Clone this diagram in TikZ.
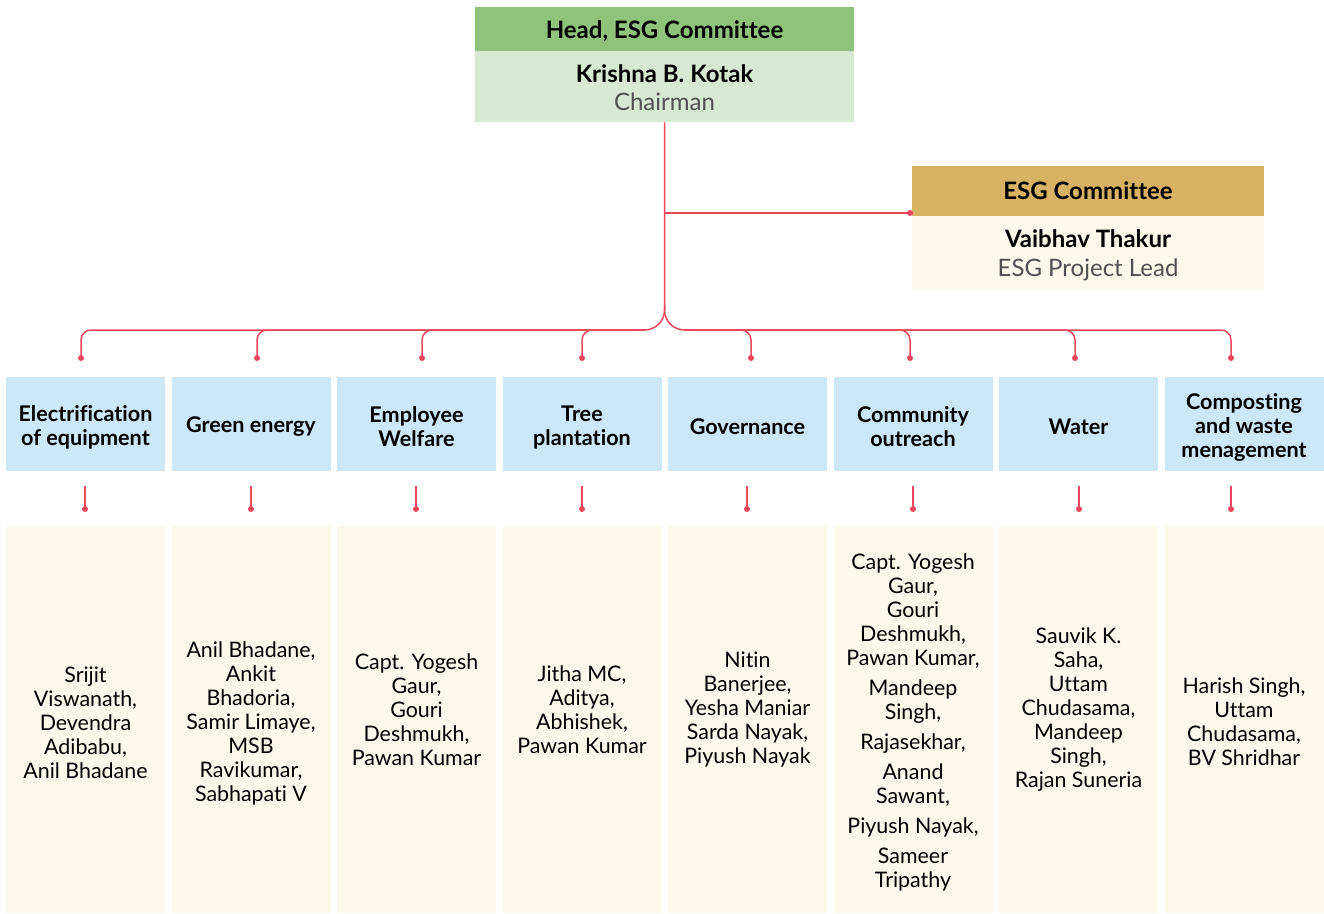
\documentclass[tikz,border=0pt]{standalone}
\usepackage{fontspec}
\setmainfont{Lato}[Ligatures=NoCommon]
\definecolor{headgreen}{HTML}{8FC27A}
\definecolor{lightgreen}{HTML}{D8E9D3}
\definecolor{gold}{HTML}{D8B263}
\definecolor{cream}{HTML}{FDF8EC}
\definecolor{catblue}{HTML}{CCE7F8}
\definecolor{linkred}{HTML}{E8475B}
\definecolor{subgray}{HTML}{505050}
\begin{document}
\begin{tikzpicture}[x=1pt,y=1pt,
  link/.style={draw=linkred, line width=1.5pt},
  dot/.style={fill=linkred},
  panel/.style={rectangle, inner sep=0pt, anchor=north west},
  titletext/.style={inner sep=0pt, font=\fontsize{24}{28}\selectfont\bfseries},
  catbox/.style={panel, fill=catblue, minimum width=159pt, minimum height=94pt},
  cattext/.style={align=center, inner sep=0pt, font=\fontsize{21.6}{24}\selectfont\bfseries},
  membox/.style={panel, fill=cream, minimum width=159pt, minimum height=387pt},
  memtext/.style={align=center, inner sep=0pt, font=\fontsize{21.4}{24}\selectfont}
]
\useasboundingbox (0,0) rectangle (1324,-913);

% chair block
\node[panel, fill=headgreen, minimum width=379pt, minimum height=44pt] (headtop) at (475,-7) {};
\node[titletext] (headtitle) at (664.5,-31.5) {Head, ESG Committee};
\node[panel, fill=lightgreen, minimum width=379pt, minimum height=71pt] (head) at (475,-51) {};
\node[align=center, inner sep=0pt, font=\fontsize{24}{28}\selectfont] (headtext) at (664.5,-88)
  {\textbf{Krishna B. Kotak}\\\textcolor{subgray}{Chairman}};

% ESG committee block
\node[panel, fill=gold, minimum width=352pt, minimum height=50pt] (esgtop) at (912,-166) {};
\node[titletext] (esgtitle) at (1088,-191) {ESG Committee};
\node[panel, fill=cream, minimum width=352pt, minimum height=73pt] (esg) at (912,-216) {};
\node[align=center, inner sep=0pt, font=\fontsize{24}{29}\selectfont] (esgtext) at (1088,-255)
  {\textbf{Vaibhav Thakur}\\\textcolor{subgray}{ESG Project Lead}};

% trunk and link to the committee
\coordinate (hub) at (664.5,-330);
\coordinate (esgjoin) at (664.5,-213);
\coordinate (esgdot) at (910,-213);
\draw[link, rounded corners=20pt] (head.south) -- (hub) -- ++(-30,0);
\draw[link, rounded corners=20pt] (hub) ++(0,25) -- (hub) -- ++(30,0);
\draw[link] (esgjoin) -- (esgdot);
\fill[dot] (esgdot) circle (3pt);

% categories and members
\foreach \i/\bx/\tx/\ax/\sx/\ty/\cat/\mem in {
  1/6/85.5/81/85/723/{Electrification\\of equipment}/{Srijit\\Viswanath,\\Devendra\\Adibabu,\\Anil Bhadane},
  2/171.5/251/257/251/723/{Green energy}/{Anil Bhadane,\\Ankit\\Bhadoria,\\Samir Limaye,\\MSB\\Ravikumar,\\Sabhapati V},
  3/337/416.5/422/416/710/{Employee\\Welfare}/{Capt. Yogesh\\Gaur,\\Gouri\\Deshmukh,\\Pawan Kumar},
  4/502.5/582/582/582/710/{Tree\\plantation}/{Jitha MC,\\Aditya,\\Abhishek,\\Pawan Kumar},
  5/668/747.5/751/747/710/{Governance}/{Nitin\\Banerjee,\\Yesha Maniar\\Sarda Nayak,\\Piyush Nayak},
  6/833.5/913/910/913/722/{Community\\outreach}/{Capt. Yogesh\\Gaur,\\Gouri\\Deshmukh,\\Pawan Kumar,\\[6pt]Mandeep\\Singh,\\[6pt]Rajasekhar,\\[6pt]Anand\\Sawant,\\[6pt]Piyush Nayak,\\[6pt]Sameer\\Tripathy},
  7/999/1078.5/1075/1079/710/{Water}/{Sauvik K.\\Saha,\\Uttam\\Chudasama,\\Mandeep\\Singh,\\Rajan Suneria},
  8/1164.5/1244/1231/1231/722/{Composting\\and waste\\menagement}/{Harish Singh,\\Uttam\\Chudasama,\\BV Shridhar}}{
  \node[catbox] (cat\i) at (\bx,-377) {};
  \node[cattext] (catt\i) at (\tx,-427) {\cat};
  \node[membox] (mem\i) at (\bx,-526) {};
  \node[memtext] (memt\i) at (\tx,-\ty) {\mem};
  % branch from the trunk
  \coordinate (b\i) at (\ax,-358);
  \ifdim\ax pt<664pt
    \draw[link, rounded corners=10pt] (hub) ++(-20,0) -| (b\i);
  \else
    \draw[link, rounded corners=10pt] (hub) ++(20,0) -| (b\i);
  \fi
  \fill[dot] (b\i) circle (3pt);
  % short stub between category and members
  \coordinate (s\i) at (\sx,-486);
  \coordinate (t\i) at (\sx,-509);
  \draw[link] (s\i) -- (t\i);
  \fill[dot] (t\i) circle (3pt);
}
\end{tikzpicture}
\end{document}
